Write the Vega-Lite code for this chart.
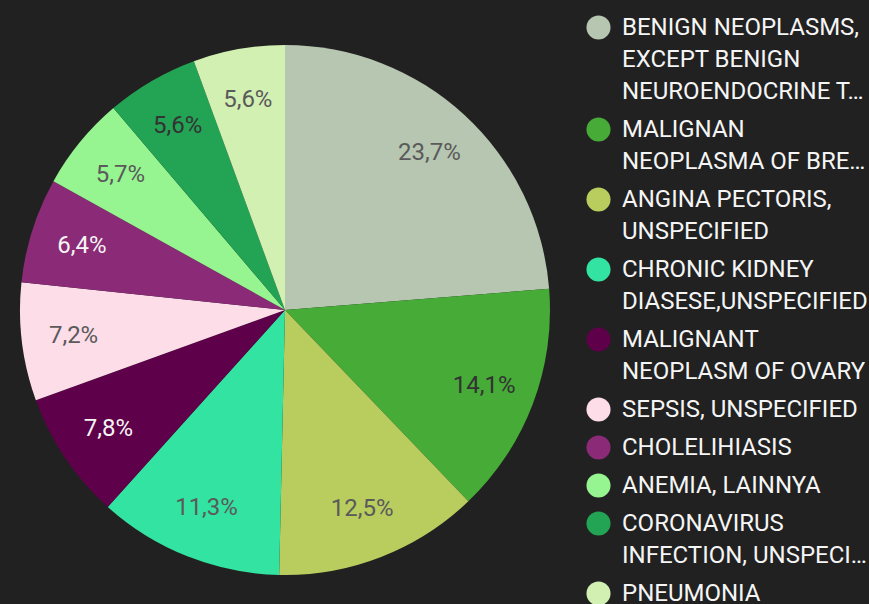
{
  "$schema": "https://vega.github.io/schema/vega-lite/v6.json",
  "width": 570,
  "height": 588,
  "autosize": {"type": "none"},
  "padding": {"left": 0, "top": 16, "right": 299, "bottom": 0},
  "background": "#212121",
  "config": {
    "view": {"stroke": null},
    "font": "Roboto",
    "locale": {"number": {"decimal": ",", "thousands": ".", "grouping": [3], "currency": ["", " €"]}},
    "style": {"guide-label": {"lineHeight": 32}}
  },
  "data": {
    "values": [
      {"idx": 1, "cause": "BENIGN NEOPLASMS,|EXCEPT BENIGN|NEUROENDOCRINE T…", "share": 0.237},
      {"idx": 2, "cause": "MALIGNAN|NEOPLASMA OF BRE…", "share": 0.141},
      {"idx": 3, "cause": "ANGINA PECTORIS,|UNSPECIFIED", "share": 0.125},
      {"idx": 4, "cause": "CHRONIC KIDNEY|DIASESE,UNSPECIFIED", "share": 0.113},
      {"idx": 5, "cause": "MALIGNANT|NEOPLASM OF OVARY", "share": 0.078},
      {"idx": 6, "cause": "SEPSIS, UNSPECIFIED", "share": 0.072},
      {"idx": 7, "cause": "CHOLELIHIASIS", "share": 0.064},
      {"idx": 8, "cause": "ANEMIA, LAINNYA", "share": 0.057},
      {"idx": 9, "cause": "CORONAVIRUS|INFECTION, UNSPECI…", "share": 0.0562},
      {"idx": 10, "cause": "PNEUMONIA", "share": 0.0558}
    ]
  },
  "encoding": {
    "theta": {"field": "share", "type": "quantitative", "stack": true},
    "order": {"field": "idx", "type": "quantitative"}
  },
  "layer": [
    {
      "mark": {"type": "arc", "outerRadius": 265},
      "encoding": {
        "color": {
          "field": "cause",
          "type": "nominal",
          "sort": null,
          "scale": {
            "domain": ["BENIGN NEOPLASMS,|EXCEPT BENIGN|NEUROENDOCRINE T…", "MALIGNAN|NEOPLASMA OF BRE…", "ANGINA PECTORIS,|UNSPECIFIED", "CHRONIC KIDNEY|DIASESE,UNSPECIFIED", "MALIGNANT|NEOPLASM OF OVARY", "SEPSIS, UNSPECIFIED", "CHOLELIHIASIS", "ANEMIA, LAINNYA", "CORONAVIRUS|INFECTION, UNSPECI…", "PNEUMONIA"],
            "range": ["#b6c6b0", "#46ab37", "#b8cd5e", "#33e3a1", "#5e004a", "#fcdde8", "#8b2a76", "#96f590", "#22a454", "#d3f0b3"]
          },
          "legend": {
            "orient": "none",
            "legendX": 586,
            "legendY": -1,
            "title": null,
            "symbolType": "circle",
            "symbolSize": 580,
            "symbolStrokeWidth": 0,
            "labelFontSize": 24,
            "labelFont": "Roboto",
            "labelColor": "#f5f5f5",
            "labelLimit": 400,
            "labelOffset": 11,
            "rowPadding": 13,
            "padding": 0,
            "labelExpr": "split(datum.label, '|')"
          }
        }
      }
    },
    {
      "mark": {"type": "text", "radius": 213, "font": "Roboto", "fontSize": 24},
      "encoding": {
        "text": {"field": "share", "type": "quantitative", "format": ".1%"},
        "color": {
          "field": "cause",
          "type": "nominal",
          "sort": null,
          "scale": {
            "domain": ["BENIGN NEOPLASMS,|EXCEPT BENIGN|NEUROENDOCRINE T…", "MALIGNAN|NEOPLASMA OF BRE…", "ANGINA PECTORIS,|UNSPECIFIED", "CHRONIC KIDNEY|DIASESE,UNSPECIFIED", "MALIGNANT|NEOPLASM OF OVARY", "SEPSIS, UNSPECIFIED", "CHOLELIHIASIS", "ANEMIA, LAINNYA", "CORONAVIRUS|INFECTION, UNSPECI…", "PNEUMONIA"],
            "range": ["#5a5a5a", "#333333", "#5a5a5a", "#5a5a5a", "#f5f5f5", "#5a5a5a", "#f5f5f5", "#5a5a5a", "#333333", "#5a5a5a"]
          },
          "legend": null
        }
      }
    }
  ],
  "resolve": {"scale": {"color": "independent"}}
}
